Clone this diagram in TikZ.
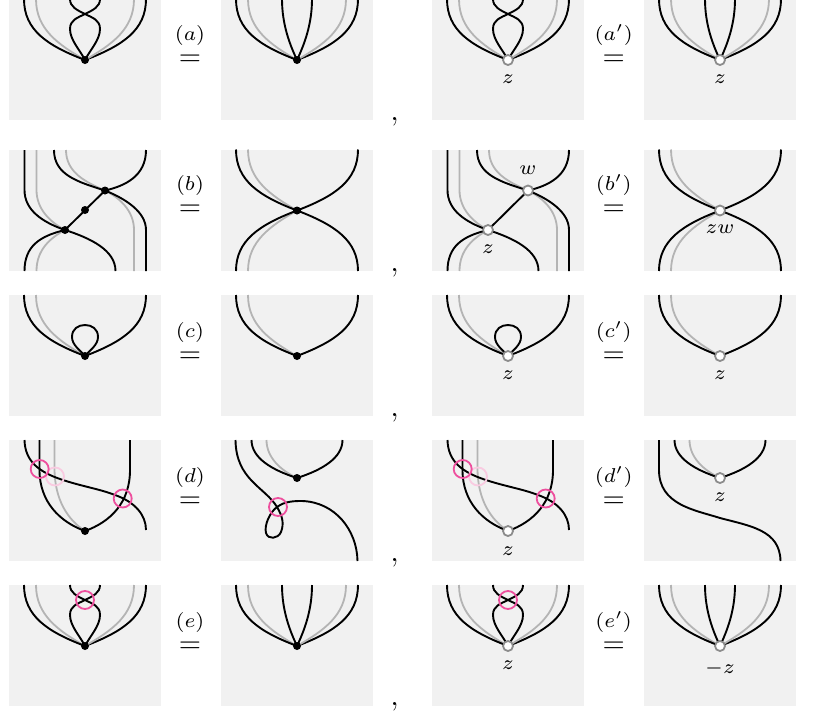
\documentclass[tikz,border=0pt]{standalone}
\definecolor{panelc}{HTML}{F1F1F1}
\definecolor{grayc}{HTML}{B4B4B4}
\definecolor{ringc}{HTML}{8C8C8C}
\definecolor{pinkc}{HTML}{EE4F9E}
\definecolor{pinkl}{HTML}{F9CBE1}
\tikzset{
  str/.style={black,line width=1.9pt},
  gstr/.style={grayc,line width=1.8pt},
  bv/.style={circle,fill=black,inner sep=0pt,minimum size=8pt},
  wv/.style={circle,fill=white,draw=ringc,line width=1.8pt,inner sep=0pt,minimum size=10pt},
  pk/.style={circle,draw=pinkc,line width=1.8pt,inner sep=0pt,minimum size=18pt},
  pkl/.style={circle,draw=pinkl,line width=1.8pt,inner sep=0pt,minimum size=18pt},
  lab/.style={inner sep=0pt,scale=2.86},
}
\newcommand\panelbox[3]{\fill[panelc] (#1-76,#2) rectangle (#1+76,#2+#3);}
\newcommand\cupL[1]{\draw[gstr] (-49,-61) .. controls (-49,-31) and (-27,-15.5) .. (#1);
  \draw[str] (-61,-61) .. controls (-61,-30) and (-38,-14.5) .. (#1);}
\newcommand\cupR[1]{\draw[str] (61,-61) .. controls (61,-30) and (38,-14.5) .. (#1);}
\newcommand\cupGR[1]{\draw[gstr] (49,-61) .. controls (49,-31) and (27,-15.5) .. (#1);}
\newcommand\twist[1]{\draw[str] (-15,-61) .. controls (-15,-53) and (-8,-50) .. (0,-46) .. controls (8,-42) and (15,-40) .. (15,-31) .. controls (15,-20) and (5,-10) .. (#1);
  \draw[str] (15,-61) .. controls (15,-53) and (8,-50) .. (0,-46) .. controls (-8,-42) and (-15,-40) .. (-15,-31) .. controls (-15,-20) and (-5,-10) .. (#1);}
\newcommand\lens[1]{\draw[str] (-15,-61) .. controls (-15,-35) and (-7,-15) .. (#1);
  \draw[str] (15,-61) .. controls (15,-35) and (7,-15) .. (#1);}
\newcommand\loopc[1]{\draw[str] (#1) .. controls (-5,-6) and (-13,-11) .. (-13,-19) .. controls (-13,-27) and (-7,-31) .. (0,-31) .. controls (7,-31) and (13,-27) .. (13,-19) .. controls (13,-11) and (5,-6) .. (#1);}
\newcommand\rowbL[4]{%
\begin{scope}[shift={(#1,0)}]
  \coordinate (#3z) at (65,230); \coordinate (#3w) at (105,190.5);
  \draw[gstr] (36.5,150) -- (36.5,190) .. controls (36.5,209) and (50,222) .. (#3z);
  \draw[gstr] (66,150) .. controls (66,172) and (85,182) .. (#3w);
  \draw[gstr] (134,271) -- (134,230) .. controls (134,211) and (120,198) .. (#3w);
  \draw[gstr] (36.5,271) .. controls (36.5,250) and (50,238) .. (#3z);
  \draw[str] (24.5,150) -- (24.5,190) .. controls (24.5,210) and (42,222) .. (#3z);
  \draw[str] (54,150) .. controls (54,175) and (78,182) .. (#3w);
  \draw[str] (146,150) .. controls (146,176) and (125,186) .. (#3w);
  \draw[str] (146,271) -- (146,230) .. controls (146,212) and (126,199) .. (#3w);
  \draw[str] (24.5,271) .. controls (24.5,246) and (40,236) .. (#3z);
  \draw[str] (115.5,271) .. controls (115.5,250) and (90,238) .. (#3z);
  \draw[str] (#3z) -- (#3w);
  #4
\end{scope}}
\newcommand\rowbR[3]{%
\begin{scope}[shift={(#1,210.5)}]
  \coordinate (#3) at (0,0);
  \cupL{#3} \cupR{#3}
  \draw[gstr] (-49,60.5) .. controls (-49,31) and (-27,15.5) .. (#3);
  \draw[str] (-61,60.5) .. controls (-61,30) and (-38,14.5) .. (#3);
  \draw[str] (61,60.5) .. controls (61,30) and (38,14.5) .. (#3);
  \node[#2] (#3n) at (#3) {};
\end{scope}}
\newcommand\rowdL[3]{%
\begin{scope}[shift={(#1,0)}]
  \coordinate (#3v) at (85,531);
  \draw[gstr] (54.5,440) -- (54.5,468) .. controls (54.5,500) and (68,520) .. (#3v);
  \draw[str] (39.5,440) -- (39.5,470) .. controls (39.5,502) and (60,522) .. (#3v);
  \draw[str] (130,440) -- (130,470) .. controls (130,503) and (110,522) .. (#3v);
  \draw[str] (24.5,440) .. controls (25,462) and (40,472) .. (60,479) .. controls (80,486) and (100,489) .. (115,495) .. controls (135,502) and (146,515) .. (146,530);
  \node[pkl] (#3p1) at (55,476.5) {};
  \node[pk] (#3p2) at (39.7,469) {};
  \node[pk] (#3p3) at (122.7,498.5) {};
  \node[#2] (#3n) at (#3v) {};
\end{scope}}
\newcommand\smallcup[2]{%
  \coordinate (#2) at (#1,478);
  \draw[gstr] (#1-30.5,440) .. controls (#1-30.5,457) and (#1-17,470) .. (#2);
  \draw[str] (#1-45.5,440) .. controls (#1-45.5,458) and (#1-25,470) .. (#2);
  \draw[str] (#1+45.5,440) .. controls (#1+45.5,458) and (#1+25,470) .. (#2);}
\begin{document}
\begin{tikzpicture}[x=1pt,y=-1pt]
\useasboundingbox (0,0) rectangle (817,713);
\foreach \px in {85,297,508,720}{
  \panelbox{\px}{0}{120}
  \panelbox{\px}{150}{121}
  \panelbox{\px}{295}{121}
  \panelbox{\px}{440}{121}
  \panelbox{\px}{585}{121}
}
% row a
\begin{scope}[shift={(85,60)}]\coordinate (a1) at (0,0);\cupL{a1}\cupR{a1}\cupGR{a1}\twist{a1}\node[bv] (a1n) at (a1) {};\end{scope}
\begin{scope}[shift={(297,60)}]\coordinate (a2) at (0,0);\cupL{a2}\cupR{a2}\cupGR{a2}\lens{a2}\node[bv] (a2n) at (a2) {};\end{scope}
\begin{scope}[shift={(508,60)}]\coordinate (a3) at (0,0);\cupL{a3}\cupR{a3}\cupGR{a3}\twist{a3}\node[wv] (a3n) at (a3) {};\end{scope}
\begin{scope}[shift={(720,60)}]\coordinate (a4) at (0,0);\cupL{a4}\cupR{a4}\cupGR{a4}\lens{a4}\node[wv] (a4n) at (a4) {};\end{scope}
% row b
\rowbL{0}{bv}{b}{\node[bv] (bzn) at (bz) {};\node[bv] (bwn) at (bw) {};\node[bv] (bmn) at (85,210) {};}
\rowbR{297}{bv}{b2}
\rowbL{423}{wv}{c}{\node[wv] (czn) at (cz) {};\node[wv] (cwn) at (cw) {};}
\rowbR{720}{wv}{b4}
% row c
\begin{scope}[shift={(85,356)}]\coordinate (c1) at (0,0);\cupL{c1}\cupR{c1}\loopc{c1}\node[bv] (c1n) at (c1) {};\end{scope}
\begin{scope}[shift={(297,356)}]\coordinate (c2) at (0,0);\cupL{c2}\cupR{c2}\node[bv] (c2n) at (c2) {};\end{scope}
\begin{scope}[shift={(508,356)}]\coordinate (c3) at (0,0);\cupL{c3}\cupR{c3}\loopc{c3}\node[wv] (c3n) at (c3) {};\end{scope}
\begin{scope}[shift={(720,356)}]\coordinate (c4) at (0,0);\cupL{c4}\cupR{c4}\node[wv] (c4n) at (c4) {};\end{scope}
% row d
\rowdL{0}{bv}{d}
\smallcup{297}{d2}
\draw[str] (235.5,440) .. controls (236,480) and (265,487) .. (277,507) .. controls (283,517) and (284,524) .. (281,532) .. controls (278,539) and (268,540) .. (266,533) .. controls (264,525) and (270,512) .. (277,507) .. controls (285,501) and (295,501) .. (302,501) .. controls (335,502) and (357,530) .. (357.5,561);
\node[bv] (d2n) at (d2) {};
\node[pk] (d2p) at (278,507) {};
\rowdL{423}{wv}{f}
\smallcup{720}{d4}
\draw[str] (659,440) -- (659,470) .. controls (659,505) and (695,510) .. (720,518) .. controls (750,526) and (780,530) .. (780.5,561);
\node[wv] (d4n) at (d4) {};
% row e
\begin{scope}[shift={(85,646)}]\coordinate (e1) at (0,0);\cupL{e1}\cupR{e1}\cupGR{e1}\twist{e1}\node[bv] (e1n) at (e1) {};\node[pk] (e1p) at (0,-46) {};\end{scope}
\begin{scope}[shift={(297,646)}]\coordinate (e2) at (0,0);\cupL{e2}\cupR{e2}\cupGR{e2}\lens{e2}\node[bv] (e2n) at (e2) {};\end{scope}
\begin{scope}[shift={(508,646)}]\coordinate (e3) at (0,0);\cupL{e3}\cupR{e3}\cupGR{e3}\twist{e3}\node[wv] (e3n) at (e3) {};\node[pk] (e3p) at (0,-46) {};\end{scope}
\begin{scope}[shift={(720,646)}]\coordinate (e4) at (0,0);\cupL{e4}\cupR{e4}\cupGR{e4}\lens{e4}\node[wv] (e4n) at (e4) {};\end{scope}
% vertex labels
\node[lab] (l1) at (508,79) {$\scriptstyle z$};
\node[lab] (l2) at (720,79) {$\scriptstyle z$};
\node[lab] (l3) at (528,170) {$\scriptstyle w$};
\node[lab] (l4) at (488,249) {$\scriptstyle z$};
\node[lab] (l5) at (720,229) {$\scriptstyle zw$};
\node[lab] (l6) at (508,375) {$\scriptstyle z$};
\node[lab] (l7) at (720,375) {$\scriptstyle z$};
\node[lab] (l8) at (508,551) {$\scriptstyle z$};
\node[lab] (l9) at (720,497) {$\scriptstyle z$};
\node[lab] (l10) at (508,665) {$\scriptstyle z$};
\node[lab] (l11) at (720,668) {$\scriptstyle -z$};
% equalities
\foreach \nm/\tx/\lx/\ly in {qa/(a)/190/35,qb/(b)/190/185,qc/(c)/190/332,qd/(d)/190/477,qe/(e)/190/622,qf/(a')/613.7/35,qg/(b')/613.7/185,qh/(c')/613.7/332,qi/(d')/613.7/477,qj/(e')/613.7/622}{
  \node[lab] (\nm) at (\lx,\ly) {$\scriptstyle \tx$};
  \node[lab] (\nm e) at (\lx,\ly+25) {$=$};
}
% commas
\foreach \nm/\ly in {ca/122,cb/273,cc/418,cd/563,ce/707}{
  \node[lab] (\nm) at (394.5,\ly) {$,$};
  \node[lab] (\nm r) at (818.5,\ly) {$,$};
}
\end{tikzpicture}
\end{document}
